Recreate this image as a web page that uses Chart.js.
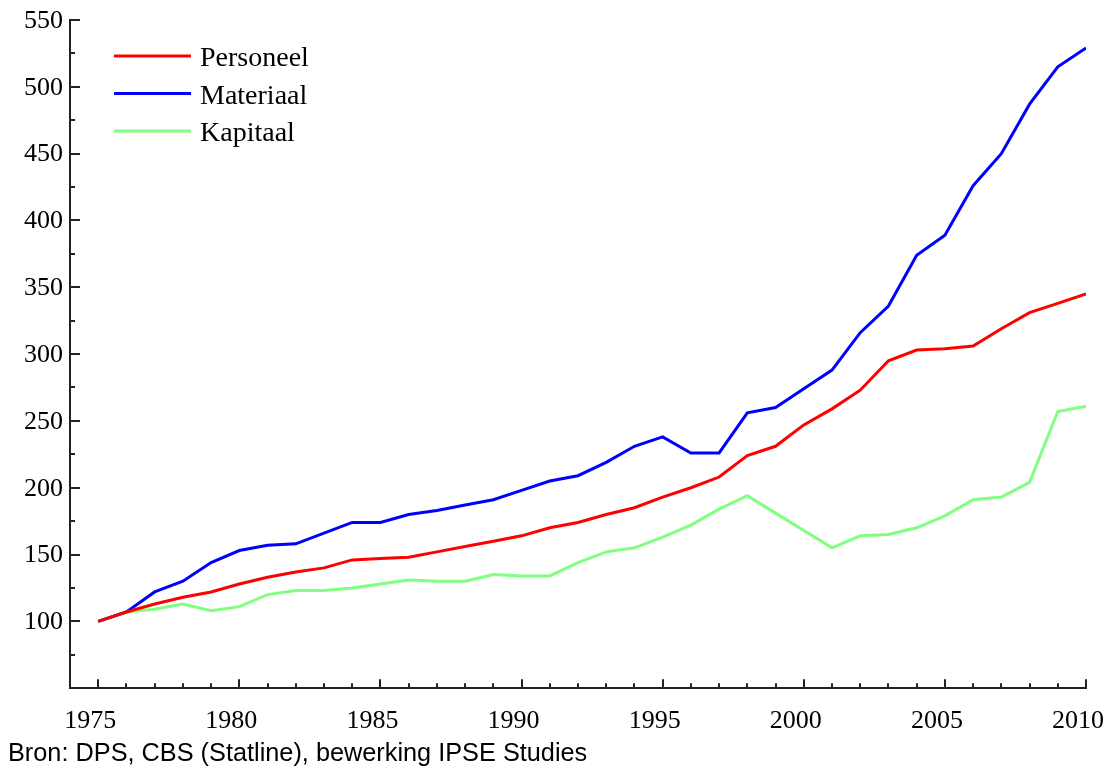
<!DOCTYPE html>
<html>
<head>
<meta charset="utf-8">
<script src="https://cdn.jsdelivr.net/npm/chart.js@4.4.1/dist/chart.umd.min.js"></script>
<style>
  html, body { margin: 0; padding: 0; background: #fff; }
  #wrap { width: 1107px; height: 769px; position: relative; }
</style>
</head>
<body>
<div id="wrap"><canvas id="c" width="1107" height="769"></canvas></div>
<script>
const years = [1975,1976,1977,1978,1979,1980,1981,1982,1983,1984,1985,1986,1987,1988,1989,1990,1991,1992,1993,1994,1995,1996,1997,1998,1999,2000,2001,2002,2003,2004,2005,2006,2007,2008,2009,2010];
const personeel = [100,107,113,118,122,128,133,137,140,146,147,148,152,156,160,164,170,174,180,185,193,200,208,224,231,247,259,273,295,303,304,306,319,331,338,345];
const materiaal = [100,107,122,130,144,153,157,158,166,174,174,180,183,187,191,198,205,209,219,231,238,226,226,256,260,274,288,316,336,374,389,426,450,487,515,529];
const kapitaal = [100,107,109,113,108,111,120,123,123,125,128,131,130,130,135,134,134,144,152,155,163,172,184,194,181,168,155,164,165,170,179,191,193,204,257,261];
const seriesNames = ['Personeel', 'Materiaal', 'Kapitaal'];
const seriesColors = ['#ff0000', '#0000ff', '#80ff80'];
const xTickValues = [1975,1980,1985,1990,1995,2000,2005,2010];
const yTickValues = [100,150,200,250,300,350,400,450,500,550];
const sourceText = 'Bron: DPS, CBS (Statline), bewerking IPSE Studies';

const AXIS_COLOR = '#222';
const serif = '"Liberation Serif", "Times New Roman", serif';

const seriesValues = [personeel, materiaal, kapitaal];
const datasets = seriesNames.map((name, i) => ({
  label: name,
  data: years.map((y, j) => ({ x: y, y: seriesValues[i][j] })),
  borderColor: seriesColors[i],
  backgroundColor: seriesColors[i],
  borderWidth: 3,
  pointRadius: 0,
  tension: 0,
  fill: false
}));

const innerTicks = {
  id: 'innerTicks',
  afterDraw(chart) {
    const ctx = chart.ctx;
    const xs = chart.scales.x, ys = chart.scales.y;
    const area = chart.chartArea;
    ctx.save();
    ctx.strokeStyle = AXIS_COLOR;
    ctx.lineWidth = 2;
    ctx.beginPath();
    for (let v = Math.ceil(xs.min); v <= xs.max; v++) {
      if (v === xs.min) continue;
      const px = Math.round(xs.getPixelForValue(v));
      const len = (v % 5 === 0) ? 9 : 5;
      ctx.moveTo(px, area.bottom);
      ctx.lineTo(px, area.bottom - len);
    }
    for (let v = ys.min + 25; v <= ys.max; v += 25) {
      const py = Math.round(ys.getPixelForValue(v));
      const len = (v % 50 === 0) ? 10 : 5;
      ctx.moveTo(area.left, py);
      ctx.lineTo(area.left + len, py);
    }
    ctx.stroke();
    ctx.restore();
  }
};

const customLegend = {
  id: 'customLegend',
  afterDraw(chart) {
    const ctx = chart.ctx;
    ctx.save();
    ctx.font = '28px ' + serif;
    ctx.textBaseline = 'middle';
    ctx.textAlign = 'left';
    chart.data.datasets.forEach((ds, i) => {
      const y = 56 + i * 37.5;
      ctx.strokeStyle = ds.borderColor;
      ctx.lineWidth = 3;
      ctx.beginPath();
      ctx.moveTo(114, y);
      ctx.lineTo(191, y);
      ctx.stroke();
      ctx.fillStyle = '#000';
      ctx.fillText(ds.label, 200, y + 3);
    });
    ctx.restore();
  }
};

new Chart(document.getElementById('c'), {
  type: 'line',
  data: { datasets },
  options: {
    responsive: false,
    animation: false,
    layout: { padding: { left: 8, right: 21, top: 20, bottom: 1 } },
    plugins: {
      legend: { display: false },
      tooltip: { enabled: false },
      title: {
        display: true,
        text: sourceText,
        position: 'bottom',
        align: 'start',
        color: '#000',
        font: { family: '"Liberation Sans", Arial, sans-serif', size: 25.3, weight: 'normal', lineHeight: 1.1 },
        padding: { top: 0, bottom: 0 }
      }
    },
    scales: {
      x: {
        type: 'linear',
        min: 1974,
        max: 2010,
        afterBuildTicks: s => { s.ticks = xTickValues.map(v => ({ value: v })); },
        afterFit: s => { s.height = 52; s.paddingLeft = 0; s.paddingRight = 0; },
        grid: { display: false, drawOnChartArea: false, drawTicks: false },
        border: { display: true, color: AXIS_COLOR, width: 2 },
        ticks: {
          autoSkip: false,
          maxRotation: 0,
          padding: 17,
          labelOffset: -8,
          color: '#000',
          font: { family: serif, size: 26 },
          callback: v => String(v)
        }
      },
      y: {
        type: 'linear',
        min: 50,
        max: 550,
        afterBuildTicks: s => { s.ticks = yTickValues.map(v => ({ value: v })); },
        afterFit: s => { s.width = 62; s.paddingTop = 0; s.paddingBottom = 0; },
        grid: { display: false, drawOnChartArea: false, drawTicks: false },
        border: { display: true, color: AXIS_COLOR, width: 2 },
        ticks: {
          autoSkip: false,
          padding: 7,
          labelOffset: 1,
          color: '#000',
          font: { family: serif, size: 26 },
          callback: v => String(v)
        }
      }
    }
  },
  plugins: [innerTicks, customLegend]
});
</script>
</body>
</html>
